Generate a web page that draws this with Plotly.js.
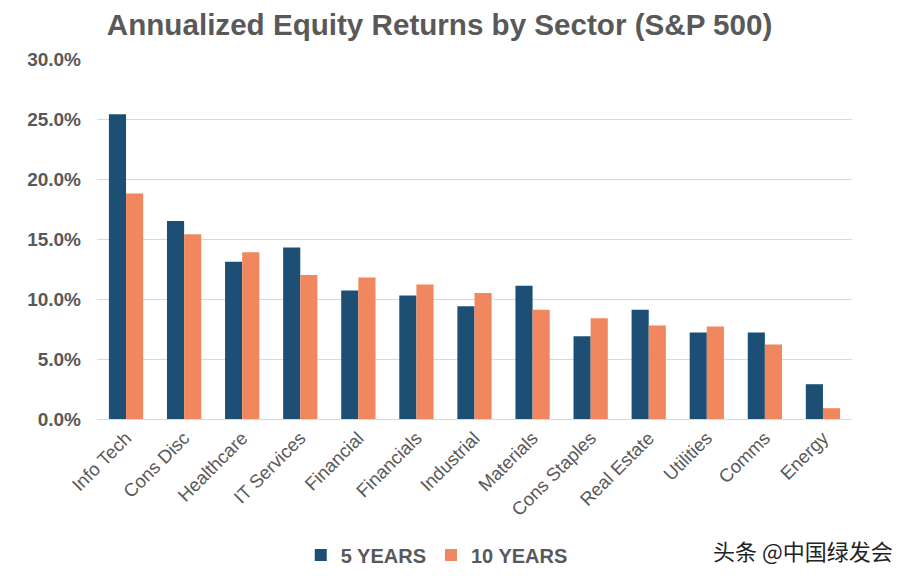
<!DOCTYPE html>
<html>
<head>
<meta charset="utf-8">
<script src="https://cdn.plot.ly/plotly-3.0.1.min.js"></script>
<style>html,body{margin:0;padding:0;background:#fff;}#chart{width:912px;height:580px;}</style>
</head>
<body>
<div id="chart"></div>
<script>
const categories = ["Info Tech","Cons Disc","Healthcare","IT Services","Financial","Financials","Industrial","Materials","Cons Staples","Real Estate","Utilities","Comms","Energy"];
const fiveYears = [25.4, 16.5, 13.1, 14.3, 10.7, 10.3, 9.4, 11.1, 6.9, 9.1, 7.2, 7.2, 2.9];
const tenYears = [18.8, 15.4, 13.9, 12.0, 11.8, 11.2, 10.5, 9.1, 8.4, 7.8, 7.7, 6.2, 0.9];
const seriesNames = ["5 YEARS", "10 YEARS"];
const yTicks = [0, 5, 10, 15, 20, 25, 30];

const gray = "#595959";
const fontFam = "'Liberation Sans', Arial, sans-serif";

const data = [
  {type:"bar", name:seriesNames[0], x:categories, y:fiveYears, marker:{color:"#1d4f75"}},
  {type:"bar", name:seriesNames[1], x:categories, y:tenYears, marker:{color:"#f0875f"}}
];

const layout = {
  width:912, height:580,
  margin:{l:97, r:60, t:59, b:161, autoexpand:false},
  paper_bgcolor:"#fff", plot_bgcolor:"#fff",
  title:{text:"<b>Annualized Equity Returns by Sector (S&P 500)</b>", x:0.482, xanchor:"center", y:0.957, yanchor:"middle", font:{family:fontFam, size:29.6, color:gray}},
  barmode:"group", bargap:0.41, bargroupgap:0,
  xaxis:{tickangle:-45, tickfont:{family:fontFam, size:18.5, color:gray}, showline:true, linecolor:"#d9d9d9", linewidth:1, ticks:"", showgrid:false, automargin:false},
  yaxis:{range:[0,30], tickvals:yTicks, ticktext:yTicks.map(v=>v.toFixed(1)+"%"), tickfont:{family:fontFam, size:19, color:gray, weight:"bold"}, gridcolor:"#d9d9d9", gridwidth:1, zeroline:false, showline:false, ticklabelstandoff:15, automargin:false},
  showlegend:true,
  legend:{orientation:"h", x:0.45, xanchor:"center", y:-0.378, yanchor:"middle", font:{family:fontFam, size:20, color:gray, weight:"bold"}, itemwidth:30, traceorder:"normal"},
  annotations:[{xref:"paper", yref:"paper", x:1.057, xanchor:"right", y:-0.364, yanchor:"middle", showarrow:false, text:"头条 @中国绿发会", font:{family:"'Noto Sans CJK SC', sans-serif", size:22, color:"#222"}}]
};

Plotly.newPlot("chart", data, layout, {displayModeBar:false, staticPlot:true});
</script>
</body>
</html>
